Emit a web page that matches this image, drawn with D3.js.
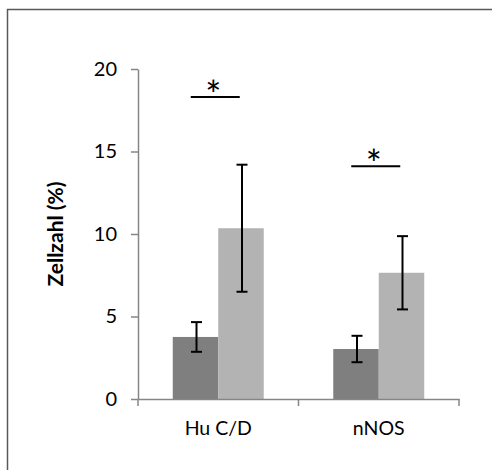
<!DOCTYPE html>
<html>
<head>
<meta charset="utf-8">
<script src="https://cdn.jsdelivr.net/npm/d3@7"></script>
<style>
  body { margin: 0; background: #fff; }
  text { font-family: Lato, "Open Sans", sans-serif; fill: #000; }
</style>
</head>
<body>
<div id="chart"></div>
<script>
const categories = ["Hu C/D", "nNOS"];
const seriesKeys = ["dark", "light"];
const darkValues = [3.76, 3.03];
const lightValues = [10.35, 7.65];
const darkErrors = [0.9, 0.8];
const lightErrors = [3.85, 2.22];
const sigLevels = [18.3, 14.1];
const yTicks = [0, 5, 10, 15, 20];

const width = 492, height = 470;
const margin = {top: 69, right: 33, bottom: 71, left: 138};

const svg = d3.select("#chart").append("svg")
  .attr("width", width)
  .attr("height", height);

// outer frame, only left and top edges are visible in the crop
svg.append("rect")
  .attr("x", 7.5)
  .attr("y", 9.5)
  .attr("width", 600)
  .attr("height", 600)
  .attr("fill", "none")
  .attr("stroke", "#595959")
  .attr("stroke-width", 1.5);

const x = d3.scaleBand()
  .domain(categories)
  .range([margin.left, width - margin.right])
  .padding(0);

const xs = d3.scaleBand()
  .domain(seriesKeys)
  .range([0, x.bandwidth()])
  .paddingInner(0)
  .paddingOuter(0.764);

const y = d3.scaleLinear()
  .domain([0, 20])
  .range([height - margin.bottom, margin.top]);

const colors = {dark: "#7f7f7f", light: "#b3b3b3"};

const rows = categories.map((c, i) => ({
  cat: c,
  bars: [
    {key: "dark", value: darkValues[i], err: darkErrors[i]},
    {key: "light", value: lightValues[i], err: lightErrors[i]}
  ],
  sig: sigLevels[i]
}));

const groups = svg.selectAll(".group")
  .data(rows)
  .join("g")
  .attr("class", "group")
  .attr("transform", d => `translate(${x(d.cat)},0)`);

groups.selectAll("rect")
  .data(d => d.bars)
  .join("rect")
  .attr("x", d => xs(d.key))
  .attr("y", d => y(d.value))
  .attr("width", xs.bandwidth())
  .attr("height", d => y(0) - y(d.value))
  .attr("fill", d => colors[d.key]);

// error bars
const capHalf = 5.5;
groups.selectAll(".err")
  .data(d => d.bars)
  .join("g")
  .attr("class", "err")
  .each(function(d) {
    const g = d3.select(this);
    const cx = xs(d.key) + xs.bandwidth() / 2 + 1;
    const top = y(d.value + d.err), bot = y(d.value - d.err);
    g.append("line").attr("x1", cx).attr("x2", cx).attr("y1", top).attr("y2", bot);
    g.append("line").attr("x1", cx - capHalf).attr("x2", cx + capHalf).attr("y1", top).attr("y2", top);
    g.append("line").attr("x1", cx - capHalf).attr("x2", cx + capHalf).attr("y1", bot).attr("y2", bot);
  })
  .selectAll("line")
  .attr("stroke", "#000")
  .attr("stroke-width", 2);

// axes
const axisColor = "#868686";

const yAxis = svg.append("g")
  .attr("transform", `translate(${margin.left},0)`)
  .call(d3.axisLeft(y).tickValues(yTicks).tickSize(7).tickPadding(14).tickSizeOuter(0));

const xAxis = svg.append("g")
  .attr("transform", `translate(0,${y(0)})`)
  .call(d3.axisBottom(x).tickSize(0).tickSizeOuter(0).tickPadding(22));

// category boundary ticks
svg.append("g")
  .selectAll("line")
  .data([...categories.map(c => x(c)), x(categories[categories.length - 1]) + x.bandwidth()])
  .join("line")
  .attr("x1", d => d)
  .attr("x2", d => d)
  .attr("y1", y(0))
  .attr("y2", y(0) + 7)
  .attr("stroke", axisColor)
  .attr("stroke-width", 1.5);

[yAxis, xAxis].forEach(a => {
  a.selectAll("path, line").attr("stroke", axisColor).attr("stroke-width", 1.5);
  a.selectAll("text")
    .attr("font-family", "Lato, sans-serif")
    .attr("font-size", 20)
    .attr("fill", "#000");
});
xAxis.selectAll("text").attr("font-size", 19.5);

// significance markers
const sig = svg.selectAll(".sig")
  .data(rows)
  .join("g")
  .attr("class", "sig")
  .attr("transform", d => `translate(${x(d.cat) + x.bandwidth() / 2 - 3},${y(d.sig)})`);

sig.append("line")
  .attr("x1", -24.5)
  .attr("x2", 24.5)
  .attr("y1", 0)
  .attr("y2", 0)
  .attr("stroke", "#000")
  .attr("stroke-width", 2);

sig.append("text")
  .attr("x", -2)
  .attr("y", 12)
  .attr("text-anchor", "middle")
  .attr("font-size", 38)
  .attr("fill", "#222")
  .text("*");

// y label
svg.append("text")
  .attr("transform", `translate(54,${(y(0) + y(20)) / 2}) rotate(-90)`)
  .attr("text-anchor", "middle")
  .attr("dominant-baseline", "central")
  .attr("font-size", 21)
  .attr("font-weight", "bold")
  .text("Zellzahl (%)");
</script>
</body>
</html>
